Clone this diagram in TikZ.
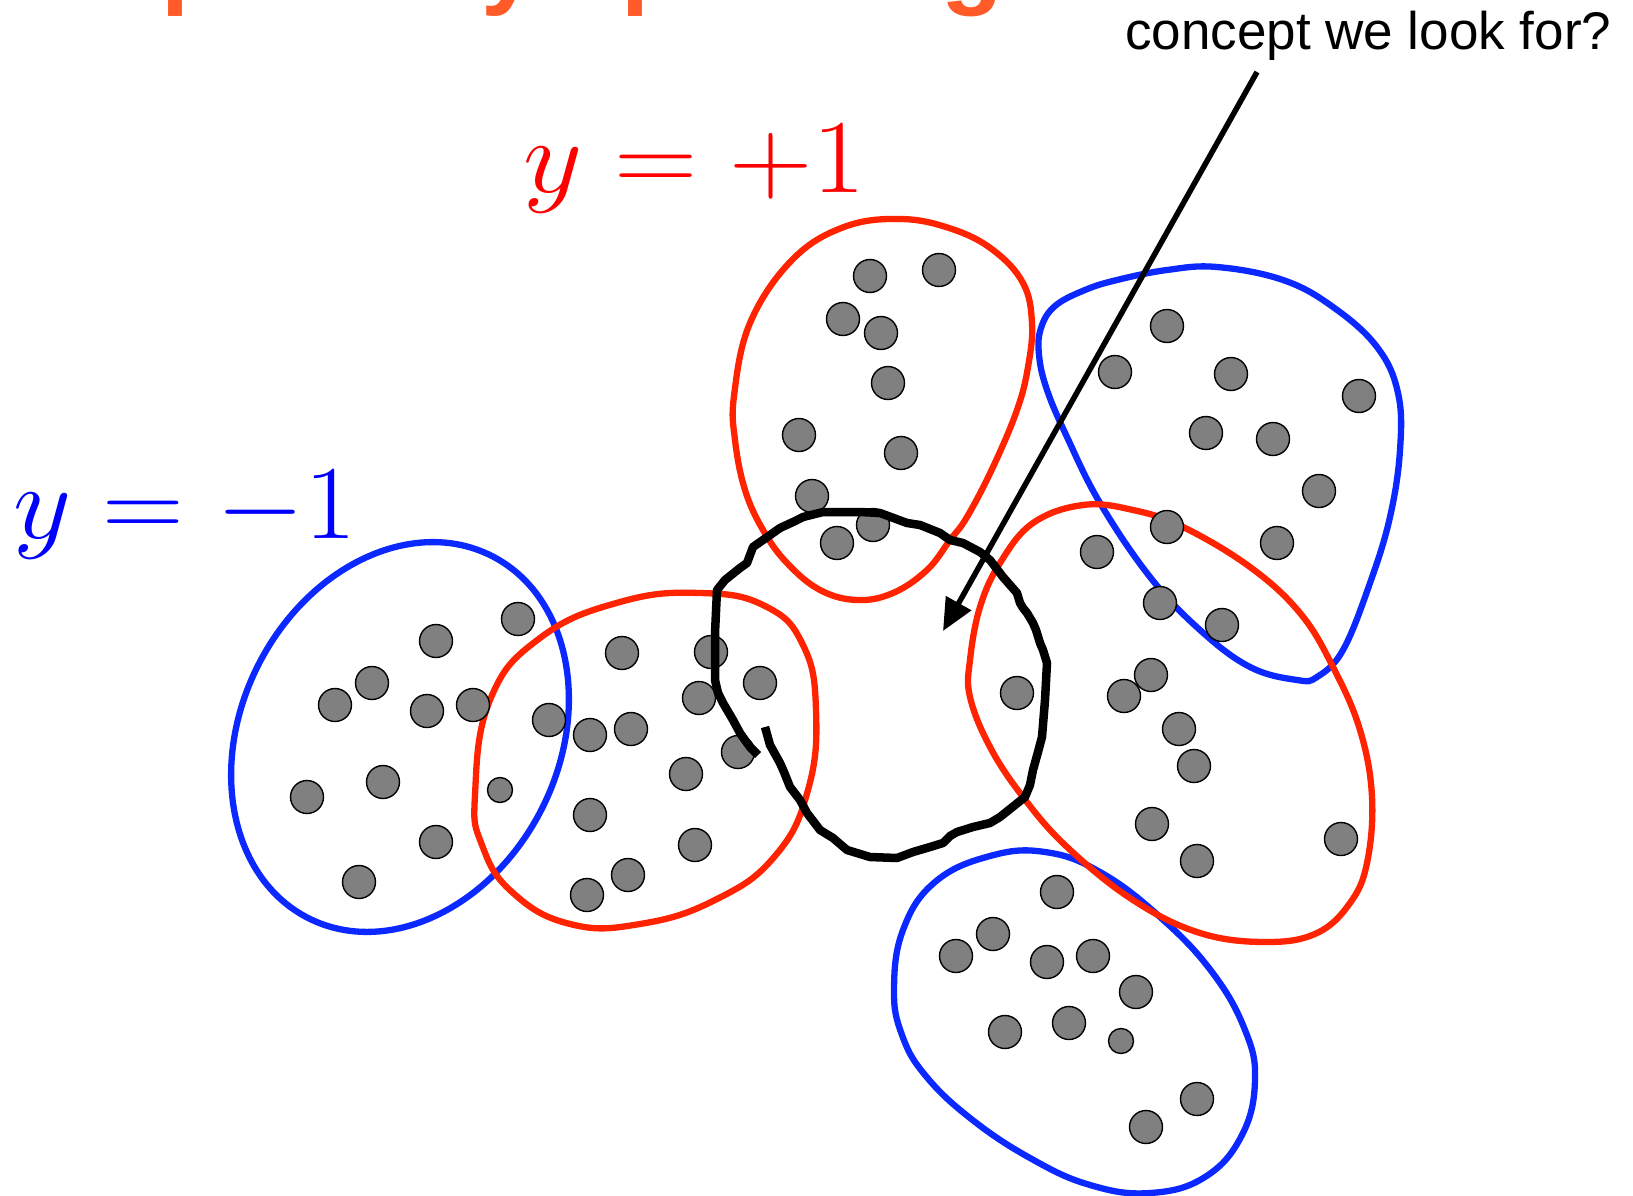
\RequirePackage{fix-cm}
\documentclass[tikz,border=0pt]{standalone}
\usepackage{fontspec}
\newfontfamily\arialfont{Liberation Sans}
\usetikzlibrary{arrows.meta}
\definecolor{blobred}{RGB}{255,35,0}
\definecolor{blobblue}{RGB}{10,40,255}
\definecolor{titleorange}{RGB}{255,90,40}
\definecolor{dotgray}{RGB}{128,128,128}
\tikzset{
  blob/.style={line width=6.3pt},
  dot/.style={circle, fill=dotgray, draw=black, line width=1.4pt, minimum size=33pt, inner sep=0pt},
  smalldot/.style={dot, minimum size=25pt},
  concept/.style={line width=8.5pt, line join=round, black},
  pointer/.style={line width=5.5pt, -{Triangle[length=32pt,width=28pt]}},
}
\begin{document}
\begin{tikzpicture}[x=1pt,y=-1pt]
\useasboundingbox (0,0) rectangle (1633,1196);
\clip (0,0) rectangle (1633,1196);
\fill[white] (0,0) rectangle (1633,1196);

% title (cut off at the top)
\node[anchor=base west, inner sep=0pt, text=titleorange,
      font=\arialfont\bfseries\fontsize{101}{110}\selectfont] (title) at (-12.7,-4) {Graphically speaking};

% question text
\node[anchor=base west, inner sep=0pt, font=\arialfont\fontsize{53}{60}\selectfont] (question) at (1125,50)
  {concept we look for?};

% labels
\node[anchor=base west, inner sep=0pt, text=red, font=\fontsize{105}{110}\selectfont] (pos) at (523,193)
  {\scalebox{1.10}[1]{$y=+1$}};
\node[anchor=base west, inner sep=0pt, text=blue, font=\fontsize{105}{110}\selectfont] (neg) at (13,538)
  {\scalebox{1.08}[1]{$y=-1$}};

% negative bags (blue)
\draw[blob, blobblue] (400,737) ellipse [x radius=203, y radius=159, rotate=63.2];
\draw[blob, blobblue] plot[smooth cycle, tension=0.65] coordinates {
  (1041,328) (1055,306) (1085,290) (1117,280) (1167,270) (1217,267) (1283,280) (1333,307) (1377,347)
  (1398,393) (1400,450) (1390,517) (1370,583) (1343,650) (1317,677) (1297,680) (1250,667) (1200,630)
  (1150,577) (1100,503) (1067,437) (1047,390) (1039,355)};
\draw[blob, blobblue] plot[smooth cycle, tension=0.7] coordinates {
  (894,990) (903,930) (935,882) (990,856) (1045,852) (1100,872) (1160,917) (1212,972) (1245,1030)
  (1255,1080) (1242,1135) (1205,1177) (1150,1193) (1090,1185) (1030,1158) (970,1118) (925,1075) (902,1035)};

% positive bags (red)
\draw[blob, blobred] plot[smooth cycle, tension=0.75] coordinates {
  (475,795) (490,700) (540,638) (620,602) (700,593) (765,606) (803,645) (816,710) (808,790) (775,856)
  (715,900) (640,924) (570,924) (512,892) (482,845)};
\draw[blob, blobred] plot[smooth cycle, tension=0.65] coordinates {
  (901,219) (952,229) (993,250) (1023,283) (1032,323) (1028,367) (1017,410) (993,467) (967,517)
  (950,540) (927,570) (893,593) (857,600) (820,590) (787,563) (763,530) (745,490) (735,440)
  (734,396) (750,323) (792,260) (844,227)};
\draw[blob, blobred] plot[smooth cycle, tension=0.65] coordinates {
  (970,660) (980,607) (1000,563) (1033,523) (1083,505) (1133,510) (1183,527) (1250,567) (1300,613)
  (1333,667) (1360,730) (1372,797) (1367,863) (1350,903) (1317,933) (1267,942) (1200,933) (1133,900)
  (1067,847) (1023,797) (990,747) (970,697)};

% instances
\foreach \px/\py [count=\i] in {
  518/619, 436/641, 372/683, 335/705, 427/711, 473/705, 549/720, 383/782, 307/797, 436/842, 359/882,
  622/653, 711/652, 760/683, 699/698, 631/729, 590/735, 686/774, 590/815, 695/845, 628/875, 587/895, 738/752,
  870/276, 939/270, 843/319, 881/333, 888/383, 799/435, 901/453, 812/496, 873/525, 837/543,
  1167/326, 1115/372, 1231/374, 1359/396, 1206/433, 1273/439, 1319/491, 1277/543, 1167/527, 1097/552, 1160/603, 1222/625,
  1017/693, 1151/675, 1124/696, 1179/729, 1194/766, 1152/824, 1197/861, 1341/839,
  1057/892, 993/934, 956/956, 1047/962, 1093/956, 1136/992, 1005/1032, 1069/1023, 1197/1099, 1146/1127}
  \node[dot] (d\i) at (\px,\py) {};
\node[smalldot] (s1) at (500,790) {};
\node[smalldot] (s2) at (1121,1041) {};

% hand-drawn concept region
\draw[concept] plot coordinates {
  (765,727) (770,745) (780,763) (784,772) (790,787) (800,800) (807,813) (820,830) (833,838) (847,850)
  (870,857) (897,858) (913,852) (930,847) (943,843) (950,836) (957,832) (973,827) (990,823) (1000,817)
  (1025,797) (1030,785) (1033,770) (1038,752) (1042,737) (1045,700) (1047,663) (1043,650) (1040,643)
  (1036,630) (1033,623) (1027,613) (1023,608) (1020,603) (1017,593) (1003,577) (990,560) (980,552)
  (963,543) (950,540) (940,533) (920,525) (907,523) (880,513) (860,512) (823,512) (803,517) (793,522)
  (780,528) (763,540) (753,547) (747,563) (740,568) (725,580) (717,590) (715,633) (715,680) (718,693)
  (723,703) (733,720) (740,733) (747,743) (750,747) (758,755)};

% pointer
\coordinate (astart) at (1257,72);
\coordinate (atip) at (943,631);
\draw[pointer] (astart) -- (atip);
\end{tikzpicture}
\end{document}
